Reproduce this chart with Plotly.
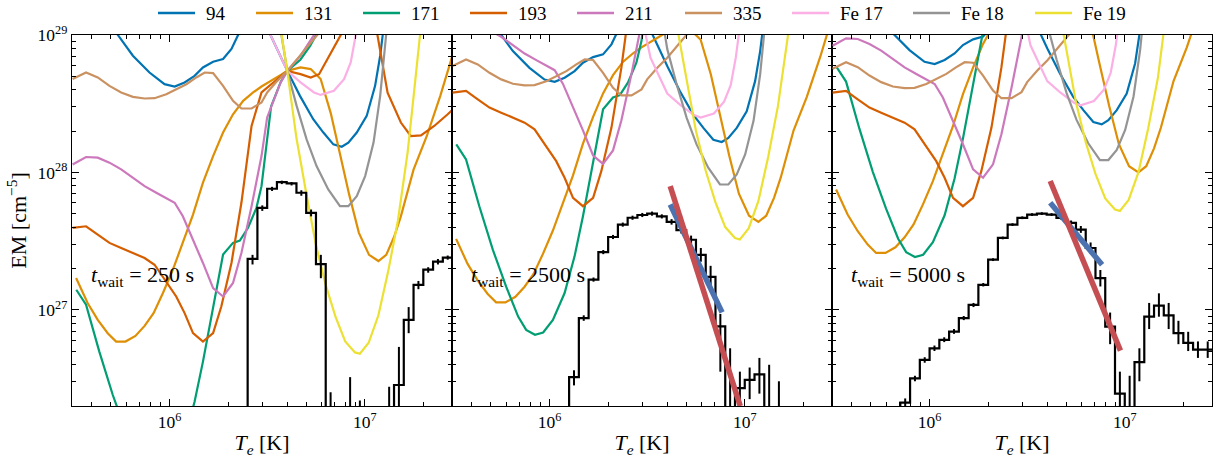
import plotly.graph_objects as go

# ---------------- data ----------------
CHANNELS = ["94", "131", "171", "193", "211", "335", "Fe 17", "Fe 18", "Fe 19"]
COLORS = ["#0173B2", "#DE8F05", "#029E73", "#D55E00", "#CC78BC",
          "#CA9161", "#FBAFE4", "#949494", "#ECE133"]
WAIT_TIMES = ["250", "2500", "5000"]

# EM loci curves (log10 T, log10 EM) read at t_wait = 250 s
LOGT_94 = [5.70, 5.735, 5.812, 5.897, 5.974, 6.026, 6.077, 6.128, 6.171, 6.223, 6.274, 6.317, 6.351, 6.43,
           6.517, 6.604, 6.668, 6.736, 6.788, 6.839, 6.882, 6.916, 6.959, 7.010, 7.053, 7.079, 7.092, 7.12]
LOGEM_94 = [29.1, 29.0, 28.849, 28.727, 28.642, 28.625, 28.655, 28.703, 28.764, 28.805, 28.825, 28.898, 29.0, 29.3,
            29.0, 28.737, 28.557, 28.387, 28.290, 28.204, 28.187, 28.217, 28.290, 28.411, 28.630, 28.849, 29.0, 29.5]

LOGT_131 = [5.521, 5.580, 5.632, 5.683, 5.726, 5.774, 5.825, 5.872, 5.918, 5.966, 6.017, 6.068, 6.120,
            6.171, 6.223, 6.274, 6.325, 6.377, 6.428, 6.471, 6.52, 6.57, 6.603, 6.671, 6.723, 6.774, 6.826,
            6.87, 6.92, 6.97, 7.022, 7.07, 7.11, 7.15, 7.185, 7.25, 7.318, 7.387, 7.43, 7.46]
LOGEM_131 = [27.231, 27.049, 26.927, 26.830, 26.769, 26.769, 26.810, 26.883, 26.976, 27.122, 27.292, 27.487, 27.693,
             27.925, 28.119, 28.290, 28.423, 28.521, 28.582, 28.625, 28.67, 28.71, 28.739, 28.764, 28.752, 28.68, 28.43,
             28.15, 27.84, 27.56, 27.40, 27.355, 27.40, 27.53, 27.68, 28.02, 28.265, 28.557, 28.764, 28.9]

LOGT_171 = [5.522, 5.572, 5.640, 5.709, 5.777, 5.839, 5.880, 5.925, 5.967, 6.017, 6.077, 6.128, 6.171, 6.223,
            6.274, 6.325, 6.360, 6.402, 6.445, 6.471, 6.52, 6.57, 6.603, 6.67, 6.72, 6.77, 6.85, 6.95]
LOGEM_171 = [27.146, 27.037, 26.696, 26.380, 26.112, 25.893, 25.796, 25.760, 25.777, 25.869, 26.064, 26.331, 26.623,
             27.013, 27.402, 27.487, 27.504, 27.597, 27.742, 27.90, 28.48, 28.66, 28.739, 28.82, 28.92, 29.05, 29.5, 30.2]

LOGT_193 = [5.503, 5.572, 5.632, 5.692, 5.752, 5.812, 5.872, 5.923, 5.983, 6.034, 6.077, 6.120, 6.171, 6.223,
            6.265, 6.317, 6.368, 6.420, 6.471, 6.552, 6.603, 6.671, 6.723, 6.766, 6.826, 6.877, 6.95, 7.02,
            7.065, 7.117, 7.185, 7.236, 7.288, 7.356, 7.425, 7.46]
LOGEM_193 = [27.596, 27.608, 27.547, 27.487, 27.450, 27.414, 27.377, 27.328, 27.207, 27.097, 26.976, 26.830, 26.769,
             26.830, 27.024, 27.341, 27.779, 28.338, 28.582, 28.679, 28.739, 28.715, 28.691, 28.715, 28.874, 29.0,
             29.4, 29.4, 29.0, 28.58, 28.363, 28.265, 28.270, 28.338, 28.423, 28.47]

LOGT_211 = [5.503, 5.572, 5.632, 5.692, 5.752, 5.812, 5.872, 5.932, 5.983, 6.026, 6.068, 6.120, 6.171, 6.223,
            6.274, 6.325, 6.368, 6.420, 6.471, 6.500, 6.569, 6.603, 6.671, 6.740, 6.85]
LOGEM_211 = [28.058, 28.112, 28.107, 28.071, 28.022, 27.961, 27.900, 27.852, 27.815, 27.779, 27.681, 27.511, 27.341,
             27.158, 27.097, 27.195, 27.414, 27.754, 28.119, 28.40, 28.655, 28.739, 28.85, 29.0, 29.5]

LOGT_335 = [5.503, 5.572, 5.632, 5.692, 5.752, 5.812, 5.872, 5.923, 5.983, 6.034, 6.086, 6.137, 6.180, 6.223,
            6.274, 6.325, 6.368, 6.420, 6.471, 6.500, 6.552, 6.603, 6.654, 6.757, 6.85]
LOGEM_335 = [28.679, 28.727, 28.691, 28.630, 28.582, 28.550, 28.538, 28.540, 28.569, 28.606, 28.642, 28.691, 28.727,
             28.723, 28.630, 28.521, 28.465, 28.465, 28.509, 28.582, 28.666, 28.739, 28.825, 29.0, 29.3]

LOGT_FE17 = [6.45, 6.517, 6.603, 6.671, 6.740, 6.774, 6.842, 6.894, 6.928, 6.954, 7.0]
LOGEM_FE17 = [29.45, 29.0, 28.739, 28.655, 28.582, 28.564, 28.594, 28.679, 28.80, 29.0, 29.5]

LOGT_FE18 = [6.50, 6.55, 6.603, 6.651, 6.702, 6.753, 6.813, 6.873, 6.916, 6.959, 7.002, 7.045, 7.079, 7.104, 7.13]
LOGEM_FE18 = [29.8, 29.2, 28.739, 28.484, 28.241, 28.046, 27.876, 27.754, 27.754, 27.827, 27.973, 28.217, 28.557,
              28.898, 29.3]

LOGT_FE19 = [6.55, 6.574, 6.603, 6.65, 6.70, 6.75, 6.80, 6.85, 6.90, 6.95, 6.975, 7.02, 7.07, 7.12, 7.17, 7.22,
             7.25, 7.284, 7.32]
LOGEM_FE19 = [29.3, 29.0, 28.739, 28.25, 27.85, 27.47, 27.18, 26.95, 26.77, 26.69, 26.68, 26.76, 26.96, 27.28,
              27.65, 28.15, 28.55, 29.0, 29.5]

LOCI_LOGT = [LOGT_94, LOGT_131, LOGT_171, LOGT_193, LOGT_211, LOGT_335, LOGT_FE17, LOGT_FE18, LOGT_FE19]
LOCI_LOGEM_250 = [LOGEM_94, LOGEM_131, LOGEM_171, LOGEM_193, LOGEM_211, LOGEM_335, LOGEM_FE17, LOGEM_FE18, LOGEM_FE19]

# change of log10 observed intensity of each channel relative to t_wait = 250 s (loci = I / K(T))
LOG_INTENSITY_CHANGE = [
    [0.0, 0.0, 0.0, 0.0, 0.0, 0.0, 0.0, 0.0, 0.0],
    [0.034, 0.285, 1.058, 0.985, 0.965, 0.095, -0.165, 0.158, 0.832],
    [0.163, 0.645, 1.624, 0.985, 0.864, 0.075, -0.075, 0.336, 1.04],
]

# DEM histograms: bin edges (log10 T), bin values (log10 EM, None = empty), error bar ends (log10 EM)
HIST_EDGES = [
    [6.35, 6.40, 6.45, 6.50, 6.55, 6.60, 6.65, 6.70, 6.75, 6.80, 6.85, 6.90, 6.95, 7.00, 7.05, 7.10, 7.15,
     7.20, 7.25, 7.30, 7.35, 7.40, 7.45],
    [6.05, 6.10, 6.15, 6.20, 6.25, 6.30, 6.35, 6.40, 6.45, 6.50, 6.55, 6.60, 6.65, 6.70, 6.75, 6.80, 6.85,
     6.90, 6.95, 7.00, 7.05, 7.10, 7.15, 7.20],
    [5.80, 5.85, 5.90, 5.95, 6.00, 6.05, 6.10, 6.15, 6.20, 6.25, 6.30, 6.35, 6.40, 6.45, 6.50, 6.55, 6.60,
     6.65, 6.70, 6.75, 6.80, 6.85, 6.90, 6.95, 7.00, 7.05, 7.10, 7.15, 7.20, 7.25, 7.30, 7.35, 7.40, 7.45],
]
HIST_LOGEM = [
    [None, 27.37, 27.742, 27.881, 27.929, 27.92, 27.852, 27.706, 27.333, None, None, None, None, None, None,
     None, 26.453, 26.927, 27.182, 27.292, 27.35, 27.38],
    [None, 26.51, 26.94, 27.22, 27.42, 27.53, 27.62, 27.67, 27.69, 27.70, 27.68, 27.64, 27.58, 27.51, 27.40,
     27.24, 26.88, None, 26.43, 26.49, 26.53, None, None],
    [None, 26.324, 26.501, 26.635, 26.720, 26.781, 26.842, 26.94, 27.036, 27.182, 27.365, 27.523, 27.620,
     27.669, 27.693, 27.70, 27.693, 27.669, 27.633, 27.584, 27.45, 27.231, 26.878, 26.39, None, 26.62, 26.95,
     27.03, 26.96, 26.83, 26.76, 26.71, 26.71],
]
HIST_ERR_LO = [
    [None, 27.33, 27.72, 27.865, 27.915, 27.905, 27.83, 27.68, 27.23, 26.0, None, 26.0, 26.0, None, None, 26.0,
     26.0, 26.83, 27.15, 27.27, 27.33, 27.365],
    [None, 26.45, 26.92, 27.205, 27.405, 27.515, 27.605, 27.655, 27.675, 27.685, 27.665, 27.62, 27.555, 27.48,
     27.35, 27.16, 26.55, 26.0, 26.2, 26.35, 26.39, 26.0, 26.0],
    [None, 26.29, 26.48, 26.615, 26.70, 26.765, 26.825, 26.925, 27.02, 27.17, 27.355, 27.513, 27.61, 27.66,
     27.683, 27.69, 27.683, 27.655, 27.615, 27.56, 27.41, 27.17, 26.75, 26.15, 26.0, 26.48, 26.86, 26.95,
     26.86, 26.75, 26.70, 26.65, 26.65],
]
HIST_ERR_HI = [
    [None, 27.40, 27.76, 27.895, 27.94, 27.93, 27.87, 27.73, 27.40, 26.40, None, 26.51, 26.34, None, None, 26.44,
     26.73, 27.02, 27.21, 27.31, 27.37, 27.395],
    [None, 26.56, 26.96, 27.235, 27.435, 27.545, 27.635, 27.685, 27.705, 27.715, 27.695, 27.66, 27.605, 27.54,
     27.45, 27.32, 26.97, 26.72, 26.55, 26.58, 26.65, 26.60, 26.48],
    [None, 26.355, 26.52, 26.655, 26.74, 26.80, 26.86, 26.955, 27.05, 27.195, 27.375, 27.533, 27.63, 27.68,
     27.703, 27.71, 27.703, 27.683, 27.65, 27.61, 27.49, 27.29, 26.98, 26.55, 26.52, 26.72, 27.05, 27.12,
     27.05, 26.92, 26.84, 26.77, 26.77],
]

# power-law fits on the hot side (log10 T ends, log10 EM ends); None = no fit in that panel
FIT_RED_LOGT = [None, [6.618, 6.977], [6.618, 6.978]]
FIT_RED_LOGEM = [None, [27.900, 26.299], [27.937, 26.703]]
FIT_BLUE_LOGT = [None, [6.618, 6.884], [6.618, 6.884]]
FIT_BLUE_LOGEM = [None, [27.766, 26.981], [27.779, 27.328]]

X_MAJOR = [1e6, 1e7]
X_MAJOR_TEXT = ["10<sup>6</sup>", "10<sup>7</sup>"]
X_MINOR = [4e5, 5e5, 6e5, 7e5, 8e5, 9e5, 2e6, 3e6, 4e6, 5e6, 6e6, 7e6, 8e6, 9e6, 2e7]
Y_MAJOR = [1e27, 1e28, 1e29]
Y_MAJOR_TEXT = ["10<sup>27</sup>", "10<sup>28</sup>", "10<sup>29</sup>"]
Y_MINOR = [3e26, 4e26, 5e26, 6e26, 7e26, 8e26, 9e26, 2e27, 3e27, 4e27, 5e27, 6e27, 7e27, 8e27, 9e27,
           2e28, 3e28, 4e28, 5e28, 6e28, 7e28, 8e28, 9e28]

# ---------------- layout constants ----------------
W, H = 1214, 460
ML, MR, MT, MB = 72, 2, 35, 54
PW, PH = W - ML - MR, H - MT - MB
SERIF = "Liberation Serif"
BOTTOM = 1e20


def px_x(px):
    return (px - ML) / PW


def px_y(py):
    return (H - MB - py) / PH


fig = go.Figure()

for k in range(3):
    xa = "x" if k == 0 else f"x{k + 1}"
    ya = "y" if k == 0 else f"y{k + 1}"
    # loci curves
    for c in range(len(CHANNELS)):
        d = LOG_INTENSITY_CHANGE[k][c]
        fig.add_trace(go.Scatter(
            x=[10 ** t for t in LOCI_LOGT[c]],
            y=[10 ** (v + d) for v in LOCI_LOGEM_250[c]],
            mode="lines", line=dict(color=COLORS[c], width=2.2),
            xaxis=xa, yaxis=ya, showlegend=False, hoverinfo="skip"))
    # histogram
    edges = HIST_EDGES[k]
    vals = [BOTTOM if v is None else 10 ** v for v in HIST_LOGEM[k]]
    fig.add_trace(go.Scatter(
        x=[10 ** e for e in edges], y=vals + [vals[-1]],
        mode="lines", line=dict(color="black", width=2.2, shape="hv"),
        xaxis=xa, yaxis=ya, showlegend=False, hoverinfo="skip"))
    # error bars
    ex, ey = [], []
    for i in range(len(HIST_LOGEM[k])):
        lo, hi = HIST_ERR_LO[k][i], HIST_ERR_HI[k][i]
        if lo is None:
            continue
        xc = 10 ** ((edges[i] + edges[i + 1]) / 2)
        ex += [xc, xc, None]
        ey += [10 ** lo, 10 ** hi, None]
    fig.add_trace(go.Scatter(
        x=ex, y=ey, mode="lines", line=dict(color="black", width=2),
        xaxis=xa, yaxis=ya, showlegend=False, hoverinfo="skip"))
    # fits
    for ft, fe, col in [(FIT_BLUE_LOGT, FIT_BLUE_LOGEM, "#4C72B0"), (FIT_RED_LOGT, FIT_RED_LOGEM, "#C44E52")]:
        if ft[k] is None:
            continue
        fig.add_trace(go.Scatter(
            x=[10 ** t for t in ft[k]], y=[10 ** v for v in fe[k]],
            mode="lines", line=dict(color=col, width=5.5),
            xaxis=xa, yaxis=ya, showlegend=False, hoverinfo="skip"))

axis_common = dict(
    showline=True, linecolor="black", linewidth=1.3, mirror="allticks",
    ticks="inside", ticklen=7, tickwidth=1.2, tickcolor="black",
    showgrid=False, zeroline=False,
    tickfont=dict(family=SERIF, size=17.5, color="black"),
)

layout = dict(
    width=W, height=H,
    margin=dict(l=ML, r=MR, t=MT, b=MB),
    paper_bgcolor="white", plot_bgcolor="white",
    font=dict(family=SERIF, color="black"),
    showlegend=False,
)

for k in range(3):
    xname = "xaxis" if k == 0 else f"xaxis{k + 1}"
    yname = "yaxis" if k == 0 else f"yaxis{k + 1}"
    xa = "x" if k == 0 else f"x{k + 1}"
    ya = "y" if k == 0 else f"y{k + 1}"
    layout[xname] = dict(
        axis_common, type="log", range=[5.5, 7.447], domain=[k / 3, (k + 1) / 3], anchor=ya,
        tickmode="array", tickvals=X_MAJOR, ticktext=X_MAJOR_TEXT,
        minor=dict(tickmode="array", tickvals=X_MINOR, ticks="inside", ticklen=4, tickwidth=1, tickcolor="black"),
        title=dict(text="<i>T</i><sub><i>e</i></sub> [K]", font=dict(family=SERIF, size=22), standoff=3),
    )
    layout[yname] = dict(
        axis_common, type="log", range=[26.30, 29.0], domain=[0, 1], anchor=xa,
        tickmode="array", tickvals=Y_MAJOR, ticktext=Y_MAJOR_TEXT,
        showticklabels=(k == 0),
        minor=dict(tickmode="array", tickvals=Y_MINOR, ticks="inside", ticklen=4, tickwidth=1, tickcolor="black"),
    )
layout["yaxis"]["title"] = dict(text="EM [cm<sup>−5</sup>]", font=dict(family=SERIF, size=22), standoff=4)

fig.update_layout(**layout)

# t_wait labels
for k in range(3):
    fig.add_annotation(
        x=k / 3 + px_x(89), y=px_y(276), xref="paper", yref="paper",
        text=f"<i>t</i><sub>wait</sub> = {WAIT_TIMES[k]} s",
        showarrow=False, xanchor="left", yanchor="middle",
        font=dict(family=SERIF, size=22, color="black"))

# legend (top row)
LEGEND_LINE_X = [158, 256, 363, 470, 577, 685, 792, 913, 1035]
LEG_Y = px_y(13)
for c, name in enumerate(CHANNELS):
    x0 = LEGEND_LINE_X[c]
    fig.add_shape(type="line", xref="paper", yref="paper",
                  x0=px_x(x0), x1=px_x(x0 + 37), y0=LEG_Y, y1=LEG_Y,
                  line=dict(color=COLORS[c], width=2.5))
    fig.add_annotation(x=px_x(x0 + 46), y=LEG_Y, xref="paper", yref="paper",
                       text=name, showarrow=False, xanchor="left", yanchor="middle",
                       font=dict(family=SERIF, size=19, color="black"))

fig.write_html("out.html")
